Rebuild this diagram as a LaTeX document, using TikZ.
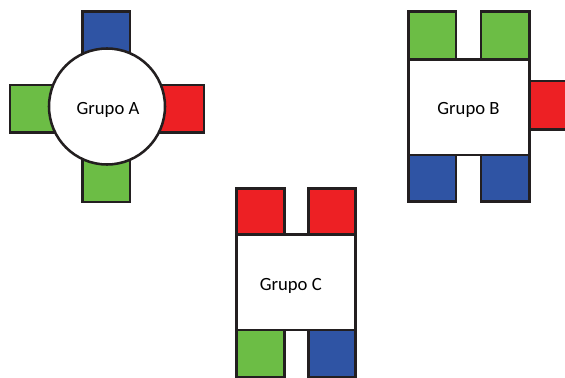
\documentclass[tikz,border=0pt]{standalone}
\usepackage{fontspec}
\setmainfont{Carlito}
\definecolor{chairblue}{RGB}{47,84,164}
\definecolor{chairgreen}{RGB}{108,189,69}
\definecolor{chairred}{RGB}{237,32,36}
\definecolor{edge}{RGB}{35,31,32}

\begin{document}
\begin{tikzpicture}[x=0.75pt,y=0.75pt,yscale=-1,xscale=1,
  chair/.style={draw=edge, line width=1.9pt},
  tablebox/.style={draw=edge, fill=white, line width=1.9pt},
  tabletext/.style={anchor=base, inner sep=0.75pt, font=\fontsize{14}{16}\selectfont}]

\useasboundingbox (0,0) rectangle (565,378);

%Group A: round table
\draw [chair, fill=chairblue] (82.7,11.7) rectangle (130,59) ;
\draw [chair, fill=chairgreen] (10,85) rectangle (57,132.5) ;
\draw [chair, fill=chairred] (157,85) rectangle (204,132.5) ;
\draw [chair, fill=chairgreen] (82.7,155) rectangle (130,202) ;
%Shape: Circle
\draw [tablebox] (107,106.5) circle (58) ;

%Group B: square table
\draw [chair, fill=chairgreen] (408.3,11.7) rectangle (456,59.3) ;
\draw [chair, fill=chairgreen] (481,11.7) rectangle (529.3,59.3) ;
\draw [chair, fill=chairblue] (408.3,155) rectangle (456,201.7) ;
\draw [chair, fill=chairblue] (481,155) rectangle (529.3,201.7) ;
\draw [chair, fill=chairred] (529.3,81) rectangle (577,129.3) ;
%Shape: Rectangle
\draw [tablebox] (408.3,59.3) rectangle (529.3,155) ;

%Group C: square table
\draw [chair, fill=chairred] (236.7,188.3) rectangle (284.3,234.3) ;
\draw [chair, fill=chairred] (308.3,188.3) rectangle (355.7,234.3) ;
\draw [chair, fill=chairgreen] (236.7,330) rectangle (284.3,377) ;
\draw [chair, fill=chairblue] (308.3,330) rectangle (355.7,377) ;
%Shape: Rectangle
\draw [tablebox] (236.7,234.3) rectangle (355.7,330) ;

% Text Node
\node (grupoA) [tabletext] at (108,115) {Grupo A};
% Text Node
\node (grupoB) [tabletext] at (468.5,114.3) {Grupo B};
% Text Node
\node (grupoC) [tabletext] at (290.8,291) {Grupo C};

\end{tikzpicture}
\end{document}
